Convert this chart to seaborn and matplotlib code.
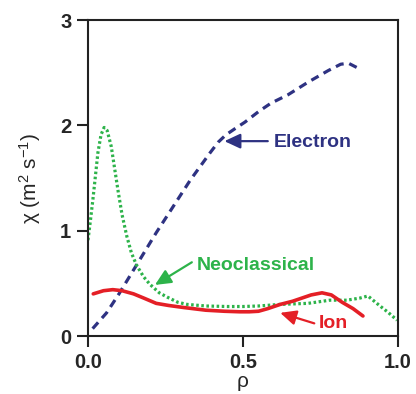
import matplotlib
matplotlib.use("Agg")
import matplotlib.pyplot as plt
import seaborn as sns

# Diffusivity profiles
electron_rho = [0.015, 0.06, 0.10, 0.16, 0.22, 0.275, 0.33, 0.394, 0.42, 0.445, 0.475, 0.506,
                0.55, 0.59, 0.645, 0.71, 0.775, 0.815, 0.84, 0.86, 0.88]
electron_chi = [0.07, 0.22, 0.40, 0.69, 0.98, 1.23, 1.48, 1.74, 1.84, 1.91, 1.97, 2.03,
                2.13, 2.21, 2.29, 2.41, 2.52, 2.58, 2.59, 2.56, 2.53]

neo_rho = [0.0, 0.008, 0.016, 0.024, 0.032, 0.042, 0.052, 0.062, 0.075, 0.087, 0.098,
           0.11, 0.125, 0.14, 0.157, 0.18, 0.2, 0.23, 0.255, 0.29, 0.32, 0.38, 0.45,
           0.5, 0.55, 0.62, 0.71, 0.78, 0.835, 0.877, 0.903, 0.94, 0.97, 0.997]
neo_chi = [0.91, 1.10, 1.30, 1.52, 1.74, 1.91, 1.98, 1.95, 1.80, 1.57, 1.36,
           1.15, 0.95, 0.79, 0.67, 0.56, 0.49, 0.41, 0.37, 0.32, 0.30, 0.285, 0.28,
           0.28, 0.285, 0.30, 0.31, 0.34, 0.34, 0.36, 0.38, 0.29, 0.22, 0.15]

ion_rho = [0.017, 0.05, 0.08, 0.11, 0.147, 0.18, 0.22, 0.26, 0.31, 0.38, 0.44, 0.49,
           0.52, 0.55, 0.58, 0.62, 0.66, 0.69, 0.72, 0.755, 0.785, 0.82, 0.855, 0.887]
ion_chi = [0.40, 0.43, 0.44, 0.43, 0.40, 0.36, 0.31, 0.29, 0.27, 0.245, 0.235, 0.23,
           0.23, 0.235, 0.26, 0.30, 0.33, 0.36, 0.39, 0.41, 0.39, 0.32, 0.26, 0.19]

x_ticks = [0.0, 0.5, 1.0]
x_tick_labels = ["0.0", "0.5", "1.0"]
y_ticks = [0, 1, 2, 3]

navy = "#2e3282"
green = "#2db34a"
red = "#e41f26"

sns.set_style("ticks")
plt.rcParams["font.family"] = ["Liberation Sans", "DejaVu Sans"]
plt.rcParams["mathtext.fontset"] = "custom"
plt.rcParams["mathtext.rm"] = "Liberation Sans"
plt.rcParams["mathtext.it"] = "Liberation Sans"
plt.rcParams["mathtext.bf"] = "Liberation Sans:bold"

fig = plt.figure(figsize=(4.16, 3.94), dpi=100)
ax = fig.add_axes([0.2115, 0.1472, 0.7452, 0.802])

sns.lineplot(x=electron_rho, y=electron_chi, ax=ax, color=navy, lw=2.3)
ax.lines[-1].set_dashes((2.6, 1.8))
sns.lineplot(x=neo_rho, y=neo_chi, ax=ax, color=green, lw=2.3)
ax.lines[-1].set_dashes((0.8, 0.8))
sns.lineplot(x=ion_rho, y=ion_chi, ax=ax, color=red, lw=2.6)

ax.set_xlim(0, 1)
ax.set_ylim(0, 3)
ax.set_xticks(x_ticks)
ax.set_xticklabels(x_tick_labels)
ax.set_yticks(y_ticks)

for s in ax.spines.values():
    s.set_linewidth(1.5)
    s.set_color("#222222")
ax.tick_params(direction="out", length=8, width=1.5, labelsize=14.5, pad=4, color="#222222")
for lab in ax.get_xticklabels() + ax.get_yticklabels():
    lab.set_fontweight("bold")

ax.set_xlabel("ρ", fontsize=15, labelpad=0)
ax.set_ylabel(r"$\chi$ (m$^{2}$ s$^{-1}$)", fontsize=15)
ax.yaxis.set_label_coords(-0.145, 0.5)

arrow = "-|>,head_length=0.6,head_width=0.28"
# Electron
ax.annotate("", xy=(0.44, 1.85), xytext=(0.58, 1.85),
            arrowprops=dict(arrowstyle=arrow, color=navy, lw=1.6, mutation_scale=16, shrinkA=0, shrinkB=0))
ax.text(0.6, 1.84, "Electron", color=navy, fontsize=14, fontweight="bold", ha="left", va="center")
# Neoclassical
ax.annotate("", xy=(0.216, 0.485), xytext=(0.335, 0.70),
            arrowprops=dict(arrowstyle=arrow, color=green, lw=1.6, mutation_scale=16, shrinkA=0, shrinkB=0))
ax.text(0.35, 0.67, "Neoclassical", color=green, fontsize=14, fontweight="bold", ha="left", va="center")
# Ion
ax.annotate("", xy=(0.62, 0.22), xytext=(0.73, 0.12),
            arrowprops=dict(arrowstyle=arrow, color=red, lw=1.6, mutation_scale=16, shrinkA=0, shrinkB=0))
ax.text(0.745, 0.12, "Ion", color=red, fontsize=14, fontweight="bold", ha="left", va="center")

fig.savefig("out.png", dpi=100)
